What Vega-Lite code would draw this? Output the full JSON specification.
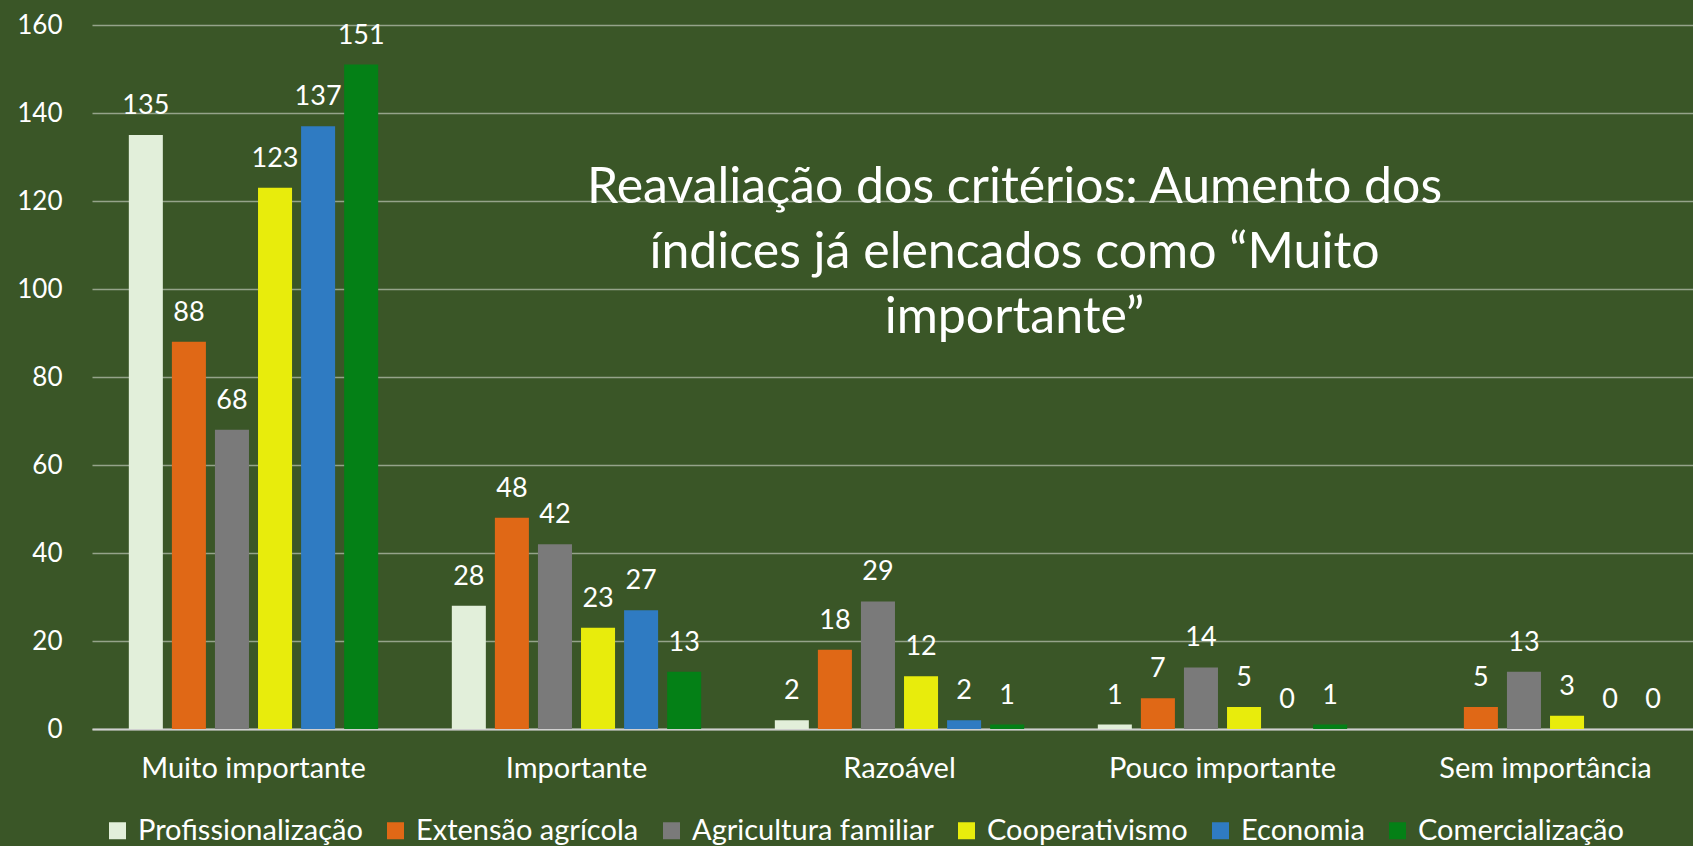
{
  "$schema": "https://vega.github.io/schema/vega-lite/v6.json",
  "width": 1615,
  "height": 704,
  "autosize": {"type": "none"},
  "padding": {"left": 92, "top": 25, "right": 0, "bottom": 117},
  "background": "#3a5627",
  "title": {
    "text": ["Reavaliação dos critérios: Aumento dos", "índices já elencados como “Muito", "importante”"],
    "anchor": "middle",
    "frame": "group",
    "orient": "top",
    "baseline": "top",
    "offset": -331,
    "dx": 115,
    "fontSize": 50,
    "fontWeight": "normal",
    "lineHeight": 65,
    "color": "#ffffff",
    "font": "Lato"
  },
  "data": {
    "values": [
      {"cat": "Muito importante", "series": "Profissionalização", "v": 135},
      {"cat": "Muito importante", "series": "Extensão agrícola", "v": 88},
      {"cat": "Muito importante", "series": "Agricultura familiar", "v": 68},
      {"cat": "Muito importante", "series": "Cooperativismo", "v": 123},
      {"cat": "Muito importante", "series": "Economia", "v": 137},
      {"cat": "Muito importante", "series": "Comercialização", "v": 151},
      {"cat": "Importante", "series": "Profissionalização", "v": 28},
      {"cat": "Importante", "series": "Extensão agrícola", "v": 48},
      {"cat": "Importante", "series": "Agricultura familiar", "v": 42},
      {"cat": "Importante", "series": "Cooperativismo", "v": 23},
      {"cat": "Importante", "series": "Economia", "v": 27},
      {"cat": "Importante", "series": "Comercialização", "v": 13},
      {"cat": "Razoável", "series": "Profissionalização", "v": 2},
      {"cat": "Razoável", "series": "Extensão agrícola", "v": 18},
      {"cat": "Razoável", "series": "Agricultura familiar", "v": 29},
      {"cat": "Razoável", "series": "Cooperativismo", "v": 12},
      {"cat": "Razoável", "series": "Economia", "v": 2},
      {"cat": "Razoável", "series": "Comercialização", "v": 1},
      {"cat": "Pouco importante", "series": "Profissionalização", "v": 1},
      {"cat": "Pouco importante", "series": "Extensão agrícola", "v": 7},
      {"cat": "Pouco importante", "series": "Agricultura familiar", "v": 14},
      {"cat": "Pouco importante", "series": "Cooperativismo", "v": 5},
      {"cat": "Pouco importante", "series": "Economia", "v": 0},
      {"cat": "Pouco importante", "series": "Comercialização", "v": 1},
      {"cat": "Sem importância", "series": "Extensão agrícola", "v": 5},
      {"cat": "Sem importância", "series": "Agricultura familiar", "v": 13},
      {"cat": "Sem importância", "series": "Cooperativismo", "v": 3},
      {"cat": "Sem importância", "series": "Economia", "v": 0},
      {"cat": "Sem importância", "series": "Comercialização", "v": 0}
    ]
  },
  "encoding": {
    "x": {
      "field": "cat",
      "type": "nominal",
      "sort": ["Muito importante", "Importante", "Razoável", "Pouco importante", "Sem importância"],
      "scale": {"paddingInner": 0.2, "paddingOuter": 0.1},
      "axis": {
        "title": null,
        "labelAngle": 0,
        "labelFontSize": 29,
        "labelColor": "#ffffff",
        "labelFont": "Lato",
        "labelPadding": 25,
        "labelLimit": 0,
        "ticks": false,
        "domain": true,
        "domainColor": "#d0d0d0",
        "domainWidth": 2,
        "grid": false
      }
    },
    "xOffset": {
      "field": "series",
      "type": "nominal",
      "sort": ["Profissionalização", "Extensão agrícola", "Agricultura familiar", "Cooperativismo", "Economia", "Comercialização"],
      "scale": {"paddingInner": 0.21, "paddingOuter": 0.105}
    },
    "y": {
      "field": "v",
      "type": "quantitative",
      "scale": {"domain": [0, 160], "nice": false},
      "axis": {
        "title": null,
        "values": [0, 20, 40, 60, 80, 100, 120, 140, 160],
        "labelFontSize": 26,
        "labelColor": "#ffffff",
        "labelFont": "Lato",
        "labelPadding": 30,
        "ticks": false,
        "domain": false,
        "grid": true,
        "gridColor": "#95a38a",
        "gridWidth": 1.5
      }
    }
  },
  "layer": [
    {
      "mark": {"type": "bar"},
      "encoding": {
        "color": {
          "field": "series",
          "type": "nominal",
          "sort": ["Profissionalização", "Extensão agrícola", "Agricultura familiar", "Cooperativismo", "Economia", "Comercialização"],
          "scale": {
            "domain": ["Profissionalização", "Extensão agrícola", "Agricultura familiar", "Cooperativismo", "Economia", "Comercialização"],
            "range": ["#e2efda", "#e06816", "#7a7a7a", "#e8ec0c", "#2f7bc2", "#048016"]
          },
          "legend": {
            "title": null,
            "orient": "none",
            "direction": "horizontal",
            "legendX": 11,
            "legendY": 791,
            "symbolType": "square",
            "symbolSize": 289,
            "symbolStrokeWidth": 0,
            "symbolOpacity": 1,
            "labelFontSize": 29,
            "labelColor": "#ffffff",
            "labelFont": "Lato",
            "labelLimit": 0,
            "labelOffset": 6,
            "columnPadding": 18
          }
        }
      }
    },
    {
      "mark": {"type": "text", "dy": -21, "baseline": "alphabetic", "fontSize": 27, "color": "#ffffff", "font": "Lato"},
      "encoding": {"text": {"field": "v", "type": "quantitative"}}
    }
  ],
  "config": {"view": {"stroke": null}}
}
